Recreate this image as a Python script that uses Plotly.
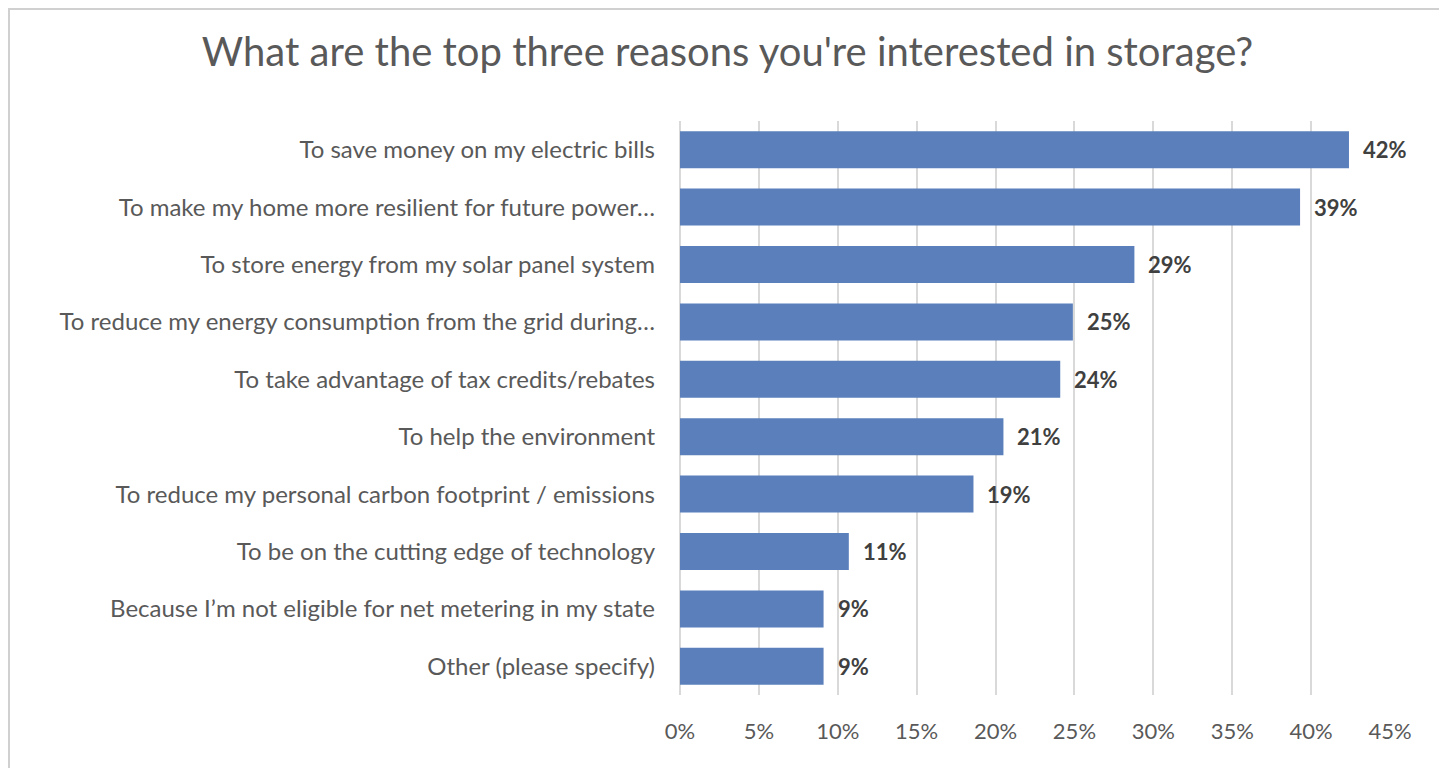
import plotly.graph_objects as go

categories = [
    "To save money on my electric bills",
    "To make my home more resilient for future power…",
    "To store energy from my solar panel system",
    "To reduce my energy consumption from the grid during…",
    "To take advantage of tax credits/rebates",
    "To help the environment",
    "To reduce my personal carbon footprint / emissions",
    "To be on the cutting edge of technology",
    "Because I’m not eligible for net metering in my state",
    "Other (please specify)",
]
values = [42.4, 39.3, 28.8, 24.9, 24.1, 20.5, 18.6, 10.7, 9.1, 9.1]
labels = ["42%", "39%", "29%", "25%", "24%", "21%", "19%", "11%", "9%", "9%"]
tick_vals = [0, 5, 10, 15, 20, 25, 30, 35, 40, 45]
tick_text = ["0%", "5%", "10%", "15%", "20%", "25%", "30%", "35%", "40%", "45%"]

FONT = "Lato"
W, H = 1439, 760
L, R, T, B = 672, 57, 113, 73

fig = go.Figure()
fig.add_trace(go.Bar(
    x=values, y=categories, orientation="h",
    marker=dict(color="#5a7fbb", line=dict(width=0)),
    width=0.645, hoverinfo="skip",
))

for v, c, t in zip(values, categories, labels):
    fig.add_annotation(x=v, y=c, text="<b>%s</b>" % t, showarrow=False,
                       xanchor="left", xshift=12,
                       font=dict(family=FONT, size=22, color="#404040"))

pw = W - L - R
ph = H - T - B
fig.update_layout(
    width=W, height=H,
    margin=dict(l=L, r=R, t=T, b=B),
    paper_bgcolor="white", plot_bgcolor="white",
    title=dict(text="What are the top three reasons you're interested in storage?",
               x=0.5, xanchor="center", y=1 - 44 / H, yanchor="middle",
               font=dict(family=FONT, size=40, color="#595959")),
    showlegend=False,
    xaxis=dict(range=[0, 45], tickvals=tick_vals, ticktext=tick_text,
               showgrid=True, gridcolor="#d9d9d9", gridwidth=1.5,
               zeroline=True, zerolinecolor="#d9d9d9", zerolinewidth=1.5,
               showline=False, ticks="", ticklabelstandoff=21,
               tickfont=dict(family=FONT, size=22, color="#595959")),
    yaxis=dict(categoryorder="array", categoryarray=categories[::-1],
               autorange=False, range=[-0.5, 9.5],
               showgrid=False, zeroline=False, showline=False, ticks="",
               ticklabelstandoff=24,
               tickfont=dict(family=FONT, size=24, color="#595959")),
    shapes=[dict(type="rect", xref="paper", yref="paper",
                 x0=(1 - L) / pw, x1=1.5, y0=-0.5, y1=(H - B - 1) / ph,
                 line=dict(color="#d0d0d0", width=2), fillcolor="rgba(0,0,0,0)",
                 layer="below")],
)

fig.write_html("out.html")
